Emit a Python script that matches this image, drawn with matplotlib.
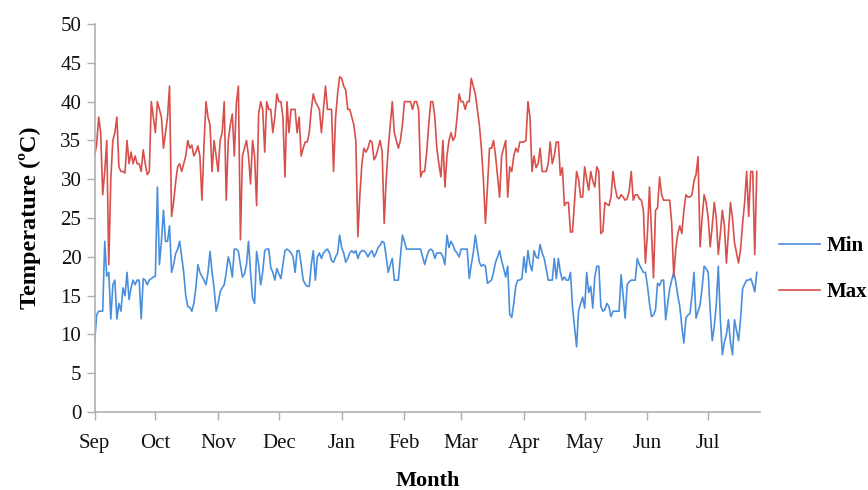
import numpy as np
import matplotlib
matplotlib.use("Agg")
import matplotlib.pyplot as plt

plt.rcParams['font.family'] = ['Liberation Serif', 'DejaVu Serif']

months = ["Sep", "Oct", "Nov", "Dec", "Jan", "Feb", "Mar", "Apr", "May", "Jun", "Jul"]
month_days = [30, 31, 30, 31, 31, 28, 31, 30, 31, 30]

temp_max = [
    33, 34.5, 38, 36, 28, 31, 35, 19, 30, 35,
    36, 38, 31.6, 31, 31, 30.8, 35, 32, 33.5, 32,
    33, 32, 32, 31, 33.8, 32, 30.6, 31, 40, 38,
    36, 40, 39, 38, 34, 36, 38, 42, 25.2, 27,
    29.6, 31.6, 32, 31, 32, 33, 35, 34, 34.4, 33,
    33.5, 34.3, 33, 27.3, 34.3, 40, 38, 37, 31, 35,
    33, 31, 35, 36, 40, 27.3, 35, 37, 38.4, 33,
    39.8, 42, 22.2, 33, 34, 35, 33, 29.4, 35, 33,
    26.6, 38.4, 40, 39, 33.5, 40, 39, 39, 36, 38,
    41, 40, 40, 38, 30.3, 40, 36, 39, 39, 39,
    36, 38, 33, 34, 34.8, 34.8, 36, 39, 41, 40,
    39.5, 39, 36, 39, 42, 39, 39, 39, 31, 38,
    41, 43.2, 43, 42, 41.5, 39, 39, 38, 37, 35,
    22.6, 28, 32, 34, 33.5, 34, 35, 34.8, 32.5, 33,
    34, 35, 33.5, 24.3, 30, 34, 37, 40, 36, 35,
    34, 35, 37, 40, 40, 40, 40, 39, 40, 40,
    39, 30.3, 31, 31, 33.5, 37, 40, 40, 38, 34,
    32, 30.3, 35, 29, 33, 35, 36, 35, 35.5, 38,
    41, 40, 40, 39, 40, 40, 43, 42, 41, 39,
    37, 34, 30, 24.3, 29, 34, 34, 35, 33, 30.3,
    27.7, 33, 34, 35, 27.7, 31.6, 31, 33, 34, 33.5,
    34.8, 34.8, 34.8, 35, 40, 38, 31, 33, 31.5, 32,
    34, 31, 31, 31, 32, 34.8, 32, 33, 34.8, 34.8,
    30.5, 31.5, 26.6, 27, 27, 23.2, 23.2, 27, 31, 30,
    27.7, 27.7, 31.6, 30, 28.6, 31, 29.8, 29, 31.6, 31,
    23, 23.3, 27, 26.8, 26.6, 27.7, 31, 29, 27.7, 27.5,
    28, 27.7, 27.3, 27.5, 28.5, 31, 27.3, 28, 28, 27.5,
    27.3, 26, 19.2, 23, 29, 23, 17.3, 26, 26.3, 30.3,
    28, 27.3, 27.3, 27.3, 27.3, 24.3, 17.4, 21, 23, 24,
    23, 26, 28, 27.7, 27.7, 28, 29.8, 30.6, 32.9, 21.3,
    25, 28, 27, 25, 21.3, 24, 27, 25, 20.3, 23,
    26, 24, 19.2, 23, 27, 25, 21.8, 20.5, 19.2, 21,
    24.3, 27, 31, 25.2, 31, 31, 20.3, 31,
]

temp_min = [
    9, 12.5, 13, 13, 13, 22, 17.5, 18, 12, 16.4,
    17, 12, 14, 13, 16, 15, 18, 14.5, 16, 17,
    16.4, 17, 17, 12, 17.2, 17, 16.4, 17, 17.2, 17.4,
    17.5, 29, 19, 22, 26, 22, 22, 24, 18, 19,
    20.4, 21, 22, 20, 18, 15, 13.6, 13.5, 13, 14,
    16, 19, 18, 17.5, 17, 16.4, 18, 20.7, 18, 16,
    13, 14, 15.5, 16, 16.4, 18, 20, 19, 17.4, 21,
    21, 20.7, 19, 17.4, 17.8, 19, 22, 18, 14.7, 14,
    20.7, 19, 16.4, 18, 20.8, 21, 21, 18.6, 18, 17,
    18.5, 17.8, 17.2, 19, 20.8, 21, 20.8, 20.5, 20, 18,
    20.8, 20.8, 19, 17, 16.5, 16.2, 16.2, 19, 20.8, 17,
    20, 20.5, 19.8, 20.5, 20.8, 21, 20.5, 19.5, 19.3, 20,
    20.5, 22.8, 21.2, 20.5, 19.3, 19.8, 20.5, 20.8, 20.5, 20.8,
    19.8, 20.5, 20.8, 20.8, 20.5, 20, 20.5, 20.8, 20, 20.5,
    21.2, 21.5, 22, 21.8, 20, 18, 19, 19.8, 17, 17,
    17, 20, 22.8, 22, 21, 21, 21, 21, 21, 21,
    21, 21, 20, 19, 20, 20.8, 21, 20.8, 19.8, 20.5,
    20.5, 20.5, 20, 19, 22.8, 21.2, 22, 21.5, 20.8, 20.5,
    20, 21, 21, 21, 21, 17.2, 19, 20.5, 22.8, 21,
    19.3, 18.8, 19, 18.8, 16.6, 16.8, 17, 18, 19.3, 20,
    20.8, 19.5, 18.5, 17.4, 18.8, 12.6, 12.2, 14, 16.3, 17,
    17, 17.2, 20, 18, 20.8, 19, 18.2, 20.8, 20, 19.8,
    21.6, 20.5, 19.8, 18.5, 17, 17, 17, 19.8, 17.2, 19.8,
    18, 17, 17.4, 17, 17, 18, 13.5, 11, 8.4, 13,
    14, 14.8, 13.4, 18, 15.4, 16.2, 13.4, 17.4, 18.8, 18.8,
    13.6, 13, 13.2, 14, 13.6, 12.3, 13, 13, 13, 13,
    17.7, 15, 12.1, 16.4, 16.8, 17, 17, 17, 19.8, 19,
    18.5, 18, 18, 16.3, 14, 12.3, 12.5, 13.2, 16.6, 16.3,
    17, 17, 11.9, 14, 15.9, 17, 18, 16.8, 15, 13.6,
    11, 8.9, 12.1, 12.5, 12.7, 15, 18, 12.1, 13, 13.8,
    16, 18.8, 18.5, 18, 13, 9.2, 11, 13.9, 18.8, 12,
    7.4, 9, 10, 11.9, 9, 7.4, 11.9, 10.5, 9.2, 12,
    15.9, 16.5, 17, 17, 17.2, 16.5, 15.5, 18,
]

days = np.arange(len(temp_max))
month_ticks = np.concatenate([[0], np.cumsum(month_days)])

fig = plt.figure(figsize=(8.68, 4.9), dpi=100)
ax = fig.add_axes([0.109, 0.159, 0.7666, 0.792])

blue = '#4a8fdd'
red = '#d8504c'
ax.plot(days, temp_min, color=blue, lw=1.2, label='Min')
ax.plot(days, temp_max, color=red, lw=1.2, label='Max')

ax.set_xlim(0, 328.6)
ax.set_ylim(0, 50)
ax.set_yticks(np.arange(0, 51, 5))
ax.set_xticks(month_ticks)
ax.set_xticklabels(months)

for s in ['top', 'right']:
    ax.spines[s].set_visible(False)
for s in ['left', 'bottom']:
    ax.spines[s].set_color('#b0b0b0')
    ax.spines[s].set_linewidth(1.2)
ax.tick_params(axis='both', colors='#b0b0b0', length=6, width=1.0,
               labelcolor='#111111', labelsize=15)
ax.tick_params(axis='x', pad=10)

ax.set_ylabel('Temperature (ºC)', fontsize=17.5, fontweight='bold', labelpad=14)
ax.set_xlabel('Month', fontsize=16, fontweight='bold', labelpad=13)

leg = ax.legend(loc='center left', bbox_to_anchor=(1.028, 0.368), frameon=False,
                borderpad=0, borderaxespad=0,
                handlelength=2.0, handletextpad=0.3, labelspacing=1.25,
                prop={'weight': 'bold', 'size': 15})

fig.savefig('out.png', dpi=100)
